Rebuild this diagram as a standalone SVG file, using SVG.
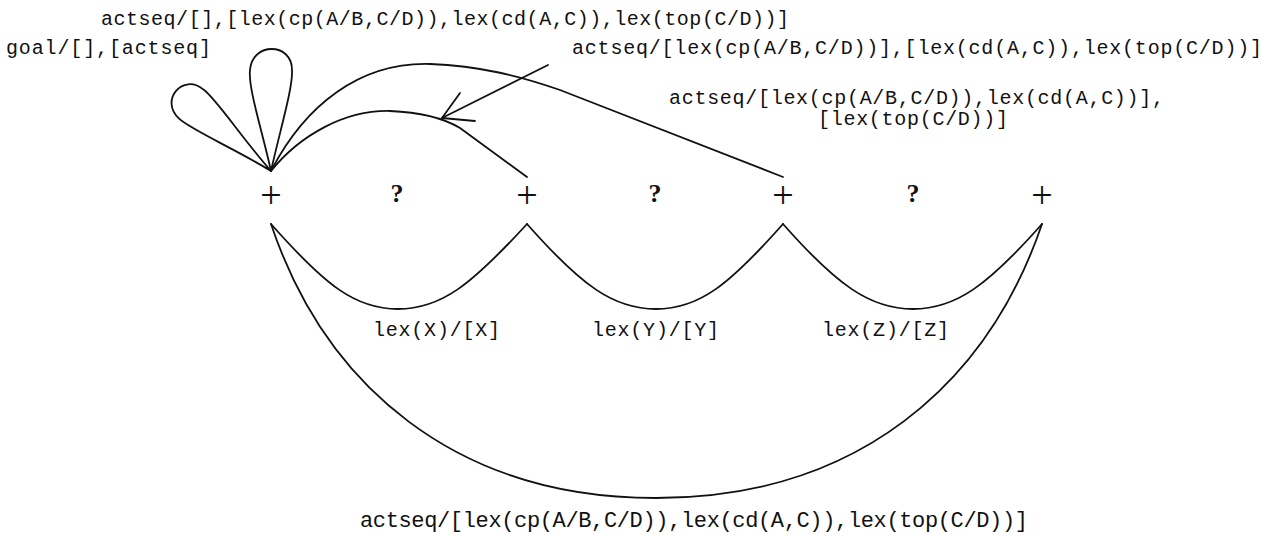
<svg xmlns="http://www.w3.org/2000/svg" width="1270" height="536" viewBox="0 0 1270 536">
<style>
.edge{fill:none;stroke:#111;stroke-width:1.8;stroke-linecap:round;stroke-linejoin:round}
.t{font-family:"Liberation Mono","DejaVu Sans Mono",monospace;font-size:20px;fill:#111}
.tb{font-family:"Liberation Mono","DejaVu Sans Mono",monospace;font-size:22px;fill:#111}
.q{font-family:"Liberation Serif","Times New Roman",serif;font-weight:bold;font-size:26px;fill:#111;text-anchor:middle}
.plus{font-family:"Liberation Serif","Times New Roman",serif;font-size:38px;fill:#111;text-anchor:middle}
</style>
<defs>
<path id="petal" d="M0,0 C-9,-41 -23,-83 -21,-101 C-19,-129 21,-129 21,-101 C22,-83 9,-41 0,0 Z"/>
<path id="petal2" d="M0,0 C-6,-41 -20,-88 -19,-104 C-18,-131 19,-131 19,-104 C20,-88 6,-41 0,0 Z"/>
</defs>
<rect width="1270" height="536" fill="#fff"/>
<g id="connectors">
<use href="#petal" class="edge" transform="translate(271,171)"/>
<use href="#petal2" class="edge" transform="translate(271,171) rotate(-50)"/>
<path class="edge" d="M271,171 C300,135 345,110 390,111 C415,112 440,116 460,128 L527,177"/>
<path class="edge" d="M271,171 C305,105 360,62 430,64 C480,66 520,76 560,90 L783,177"/>
<path class="edge" d="M271,224 C325,285 355,309 398,309 C441,309 471,285 527,224"/>
<path class="edge" d="M527,224 C581,285 613,309 656,309 C699,309 729,285 783,224"/>
<path class="edge" d="M783,224 C837,285 870,309 913,309 C956,309 988,285 1042,224"/>
<path class="edge" d="M271,224 C325,385 455,498 656,498 C857,498 987,385 1042,224"/>
<line class="edge" x1="548" y1="65" x2="442" y2="118"/>
<polyline class="edge" points="460,93 442,118 475,121"/>
</g>
<g id="n1"><text class="plus" x="271" y="208">+</text></g>
<g id="n2"><text class="plus" x="527" y="208">+</text></g>
<g id="n3"><text class="plus" x="783" y="208">+</text></g>
<g id="n4"><text class="plus" x="1042" y="208">+</text></g>
<g id="q1"><text class="q" x="397" y="202">?</text></g>
<g id="q2"><text class="q" x="655" y="202">?</text></g>
<g id="q3"><text class="q" x="913" y="202">?</text></g>
<g id="labels">
<text class="t" x="101" y="25" textLength="688" lengthAdjust="spacing">actseq/[],[lex(cp(A/B,C/D)),lex(cd(A,C)),lex(top(C/D))]</text>
<text class="t" x="6" y="54" textLength="205" lengthAdjust="spacing">goal/[],[actseq]</text>
<text class="t" x="572" y="54" textLength="690" lengthAdjust="spacing">actseq/[lex(cp(A/B,C/D))],[lex(cd(A,C)),lex(top(C/D))]</text>
<text class="t" x="669" y="104" textLength="495" lengthAdjust="spacing">actseq/[lex(cp(A/B,C/D)),lex(cd(A,C))],</text>
<text class="t" x="818" y="125" textLength="190" lengthAdjust="spacing">[lex(top(C/D))]</text>
<text class="t" x="373" y="336" textLength="127" lengthAdjust="spacing">lex(X)/[X]</text>
<text class="t" x="592" y="336" textLength="127" lengthAdjust="spacing">lex(Y)/[Y]</text>
<text class="t" x="822" y="336" textLength="127" lengthAdjust="spacing">lex(Z)/[Z]</text>
<text class="tb" x="360" y="527" textLength="668" lengthAdjust="spacing">actseq/[lex(cp(A/B,C/D)),lex(cd(A,C)),lex(top(C/D))]</text>
</g>
</svg>
